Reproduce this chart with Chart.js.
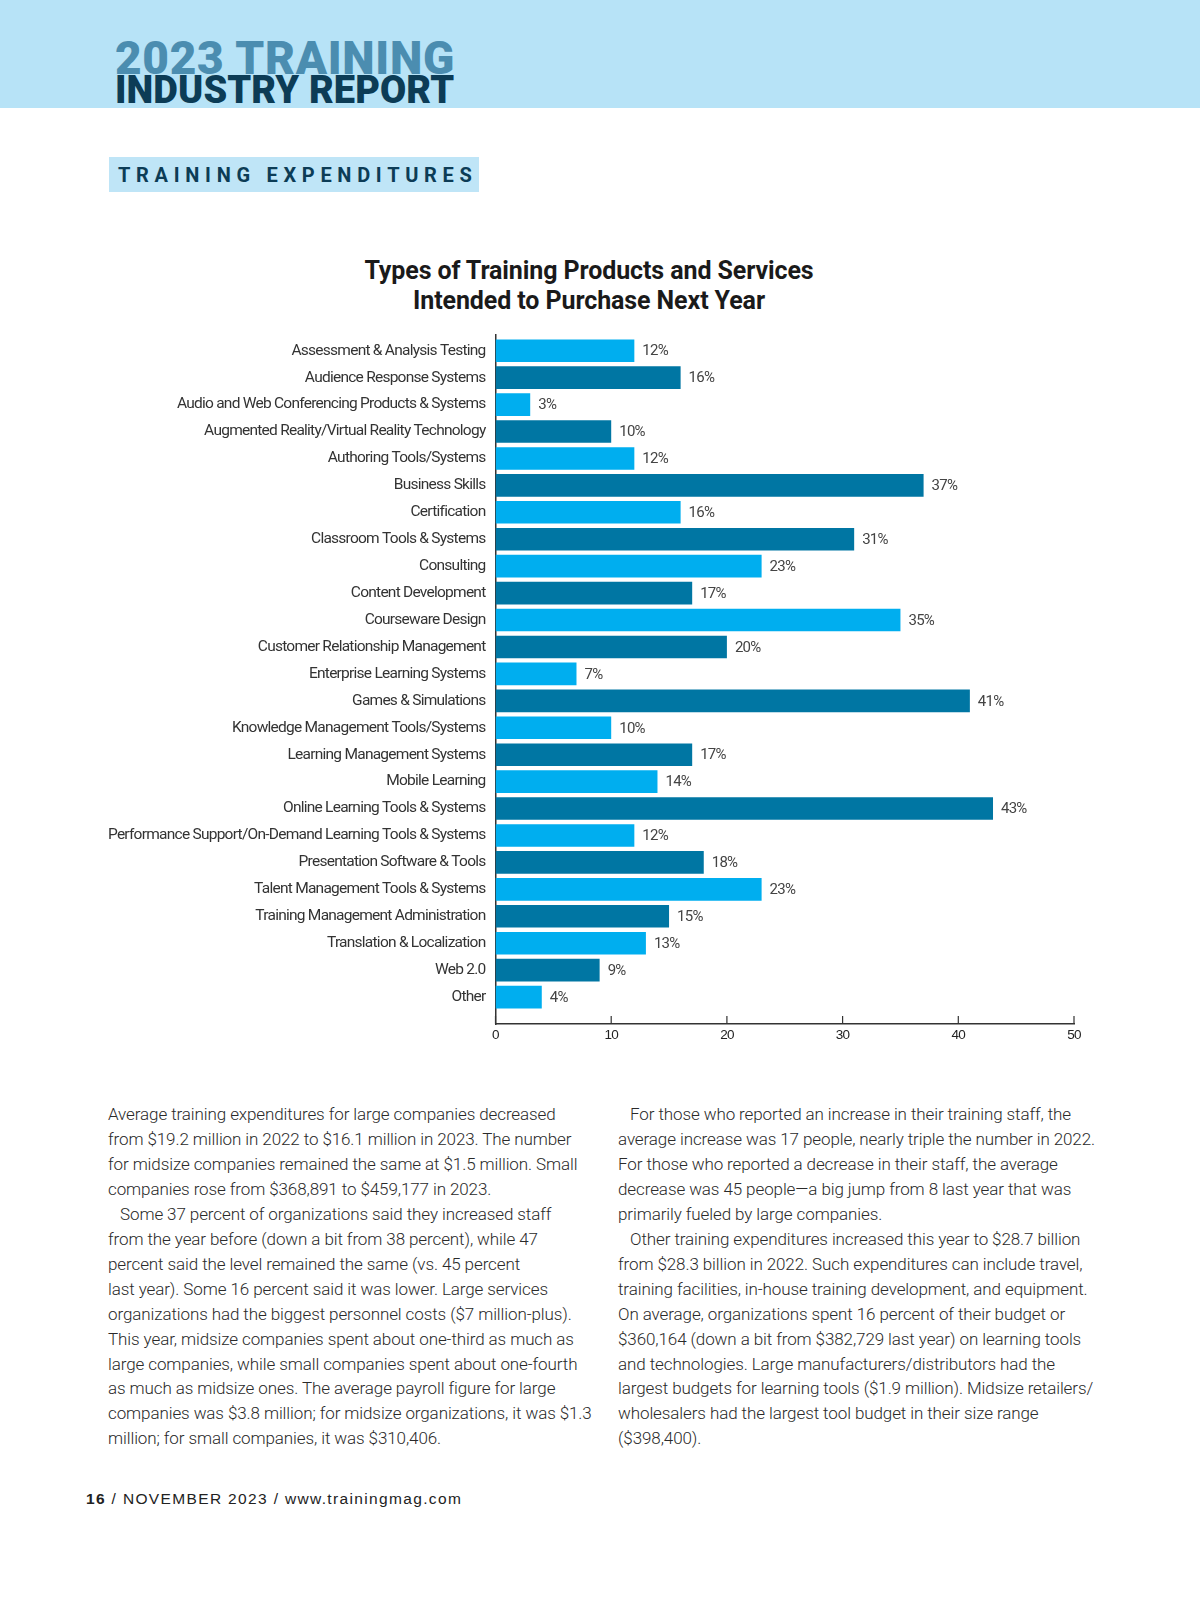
<!DOCTYPE html>
<html>
<head>
<meta charset="utf-8">
<script src="https://cdn.jsdelivr.net/npm/chart.js@4"></script>
<style>
  body { margin: 0; width: 1200px; height: 1613px; background: #fff; position: relative; font-family: Roboto, "Liberation Sans", sans-serif; }
  .band { position: absolute; left: 0; top: 0; width: 1200px; height: 108px; background: #b7e3f7; }
  .h1 { position: absolute; left: 115px; top: 35px; font-size: 46px; line-height: 46px; font-weight: 900; color: #4b8db0; letter-spacing: 0.7px; white-space: nowrap; }
  .h2 { position: absolute; left: 115px; top: 71px; font-size: 38px; line-height: 38px; font-weight: 900; color: #0c3c56; letter-spacing: 0.1px; white-space: nowrap; }
  .section { position: absolute; left: 109px; top: 157px; width: 370px; height: 35px; background: #bfe5f7; }
  .section span { position: absolute; left: 9px; top: 1px; line-height: 35px; font-size: 20px; font-weight: 700; letter-spacing: 5.7px; color: #0c3c56; white-space: nowrap; }
  .title { position: absolute; left: 289px; top: 256px; width: 600px; text-align: center; font-size: 25px; line-height: 30px; font-weight: 700; color: #1a1a1a; letter-spacing: -0.1px; }
  #wrap { position: absolute; left: 90px; top: 315px; width: 1010px; height: 743px; }
  .col { position: absolute; top: 1102px; font-size: 17px; line-height: 24.95px; color: #2a2a2a; letter-spacing: -0.1px; white-space: nowrap; font-weight: 300; }
  .col div.in { padding-left: 12px; }
  .foot { position: absolute; left: 86px; top: 1489px; font-family: "Liberation Sans", Arial, sans-serif; font-size: 15.5px; line-height: 20px; letter-spacing: 1.35px; color: #222; white-space: nowrap; }
</style>
</head>
<body>
<div class="band"></div>
<div class="h1">2023 TRAINING</div>
<div class="h2">INDUSTRY REPORT</div>
<div class="section"><span>TRAINING EXPENDITURES</span></div>
<div class="title">Types of Training Products and Services<br>Intended to Purchase Next Year</div>
<div id="wrap"><canvas id="barChart" width="1010" height="743"></canvas></div>

<div class="col" style="left:108px">
<div>Average training expenditures for large companies decreased</div>
<div>from $19.2 million in 2022 to $16.1 million in 2023. The number</div>
<div>for midsize companies remained the same at $1.5 million. Small</div>
<div>companies rose from $368,891 to $459,177 in 2023.</div>
<div class="in">Some 37 percent of organizations said they increased staff</div>
<div>from the year before (down a bit from 38 percent), while 47</div>
<div>percent said the level remained the same (vs. 45 percent</div>
<div>last year). Some 16 percent said it was lower. Large services</div>
<div>organizations had the biggest personnel costs ($7 million-plus).</div>
<div>This year, midsize companies spent about one-third as much as</div>
<div>large companies, while small companies spent about one-fourth</div>
<div>as much as midsize ones. The average payroll figure for large</div>
<div>companies was $3.8 million; for midsize organizations, it was $1.3</div>
<div>million; for small companies, it was $310,406.</div>
</div>

<div class="col" style="left:618px">
<div class="in">For those who reported an increase in their training staff, the</div>
<div>average increase was 17 people, nearly triple the number in 2022.</div>
<div>For those who reported a decrease in their staff, the average</div>
<div>decrease was 45 people—a big jump from 8 last year that was</div>
<div>primarily fueled by large companies.</div>
<div class="in">Other training expenditures increased this year to $28.7 billion</div>
<div>from $28.3 billion in 2022. Such expenditures can include travel,</div>
<div>training facilities, in-house training development, and equipment.</div>
<div>On average, organizations spent 16 percent of their budget or</div>
<div>$360,164 (down a bit from $382,729 last year) on learning tools</div>
<div>and technologies. Large manufacturers/distributors had the</div>
<div>largest budgets for learning tools ($1.9 million). Midsize retailers/</div>
<div>wholesalers had the largest tool budget in their size range</div>
<div>($398,400).</div>
</div>

<div class="foot"><b>16</b> / NOVEMBER 2023 / www.trainingmag.com</div>

<script>
var categories = [
    "Assessment & Analysis Testing",
    "Audience Response Systems",
    "Audio and Web Conferencing Products & Systems",
    "Augmented Reality/Virtual Reality Technology",
    "Authoring Tools/Systems",
    "Business Skills",
    "Certification",
    "Classroom Tools & Systems",
    "Consulting",
    "Content Development",
    "Courseware Design",
    "Customer Relationship Management",
    "Enterprise Learning Systems",
    "Games & Simulations",
    "Knowledge Management Tools/Systems",
    "Learning Management Systems",
    "Mobile Learning",
    "Online Learning Tools & Systems",
    "Performance Support/On-Demand Learning Tools & Systems",
    "Presentation Software & Tools",
    "Talent Management Tools & Systems",
    "Training Management Administration",
    "Translation & Localization",
    "Web 2.0",
    "Other"
];
var shares = [12, 16, 3, 10, 12, 37, 16, 31, 23, 17, 35, 20, 7, 41, 10, 17, 14, 43, 12, 18, 23, 15, 13, 9, 4];
var axisMax = 50;
var axisStep = 10;

var lightBlue = '#00aeef';
var darkBlue = '#0076a3';

// tight tracking like the print font
var tracking = {
    id: 'tracking',
    beforeLayout: function (chart) { chart.ctx.letterSpacing = '-0.75px'; },
    beforeDraw: function (chart) { chart.ctx.letterSpacing = '-0.75px'; }
};

var valueLabels = {
    id: 'valueLabels',
    afterDatasetsDraw: function (chart) {
        var ctx = chart.ctx;
        var meta = chart.getDatasetMeta(0);
        ctx.save();
        ctx.font = '15px Roboto';
        ctx.fillStyle = '#444';
        ctx.textAlign = 'left';
        ctx.textBaseline = 'middle';
        meta.data.forEach(function (bar, i) {
            ctx.fillText(shares[i] + '%', bar.x + 8, bar.y + 1);
        });
        ctx.restore();
    }
};

// x tick marks point up into the plot
var upTicks = {
    id: 'upTicks',
    afterDraw: function (chart) {
        var ctx = chart.ctx;
        var xs = chart.scales.x;
        ctx.save();
        ctx.strokeStyle = '#333';
        ctx.lineWidth = 1.2;
        ctx.beginPath();
        xs.ticks.forEach(function (t) {
            var px = xs.getPixelForValue(t.value);
            ctx.moveTo(px, xs.top);
            ctx.lineTo(px, xs.top - 8);
        });
        ctx.stroke();
        ctx.restore();
    }
};

var myBarChart = new Chart('barChart', {
    type: 'bar',
    data: {
        labels: categories,
        datasets: [{
            data: shares,
            backgroundColor: shares.map(function (d, i) { return i % 2 ? darkBlue : lightBlue; }),
            barPercentage: 0.84,
            categoryPercentage: 1
        }]
    },
    plugins: [tracking, valueLabels, upTicks],
    options: {
        indexAxis: 'y',
        responsive: false,
        animation: false,
        devicePixelRatio: 1,
        layout: { padding: { top: 7, right: 26, left: 0, bottom: 0 } },
        plugins: {
            legend: { display: false },
            tooltip: { enabled: false }
        },
        scales: {
            y: {
                type: 'category',
                grid: { display: false, drawTicks: false },
                border: { display: true, color: '#333', width: 1.5 },
                ticks: {
                    autoSkip: false,
                    padding: 10,
                    color: '#333',
                    font: { family: 'Roboto', size: 15.5 }
                },
                afterFit: function (scale) { scale.width = 405.5; },
                // leave a little more room below the last bar, like the print
                afterBuildTicks: function (scale) {
                    scale._startValue = -0.61;
                    scale._valueRange = categories.length + 0.61;
                }
            },
            x: {
                min: 0,
                max: axisMax,
                grid: { display: false, drawTicks: false },
                border: { display: true, color: '#333', width: 1.5 },
                ticks: {
                    stepSize: axisStep,
                    padding: 3,
                    color: '#222',
                    font: { family: 'Liberation Sans', size: 13.5 }
                },
                afterFit: function (scale) { scale.height = 34; }
            }
        }
    }
});
</script>
</body>
</html>
